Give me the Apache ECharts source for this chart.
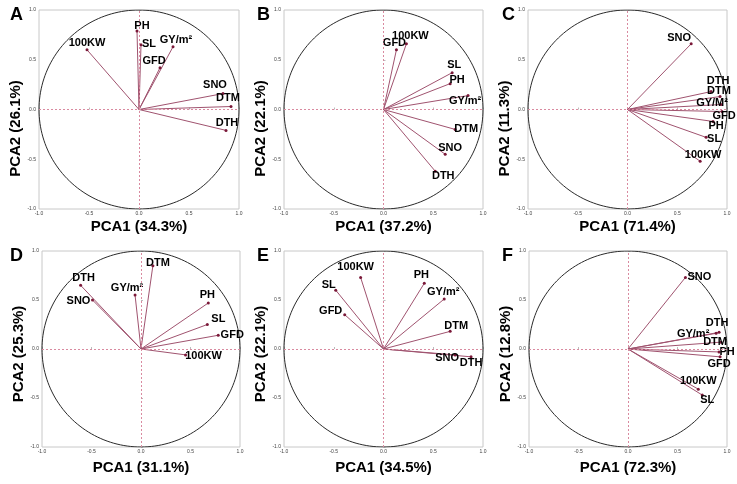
<!DOCTYPE html>
<html><head><meta charset="utf-8">
<script src="https://cdn.jsdelivr.net/npm/echarts@6/dist/echarts.min.js"></script>
<style>html,body{margin:0;padding:0;background:#fff}#c{width:737px;height:484px}</style>
</head><body><div id="c"></div>
<script>
// ---- data ----
const panelLetters = ['A','B','C','D','E','F'];
const pc1Share = ['34.3%','37.2%','71.4%','31.1%','34.5%','72.3%'];
const pc2Share = ['26.1%','22.1%','11.3%','25.3%','22.1%','12.8%'];
const tickValues = [-1.0,-0.5,0.0,0.5,1.0];

const namesA = ['PH','SL','GY/m²','GFD','100KW','SNO','DTM','DTH'];
const pc1A = [-0.02, 0.02, 0.34, 0.21, -0.52, 0.84, 0.92, 0.87];
const pc2A = [0.79, 0.65, 0.63, 0.42, 0.60, 0.16, 0.03, -0.21];

const namesB = ['GFD','100KW','SL','PH','GY/m²','DTM','SNO','DTH'];
const pc1B = [0.13, 0.23, 0.69, 0.67, 0.85, 0.72, 0.62, 0.52];
const pc2B = [0.60, 0.66, 0.37, 0.26, 0.14, -0.20, -0.45, -0.62];

const namesC = ['SNO','DTH','DTM','GY/M²','GFD','PH','SL','100KW'];
const pc1C = [0.64, 0.84, 0.93, 0.94, 0.95, 0.86, 0.79, 0.73];
const pc2C = [0.66, 0.18, 0.13, 0.05, -0.02, -0.12, -0.28, -0.52];

const namesD = ['DTM','DTH','SNO','GY/m²','PH','SL','GFD','100KW'];
const pc1D = [0.12, -0.61, -0.49, -0.06, 0.68, 0.67, 0.78, 0.45];
const pc2D = [0.85, 0.65, 0.50, 0.55, 0.47, 0.25, 0.14, -0.06];

const namesE = ['100KW','SL','GFD','PH','GY/m²','DTM','SNO','DTH'];
const pc1E = [-0.23, -0.48, -0.39, 0.41, 0.61, 0.67, 0.72, 0.88];
const pc2E = [0.73, 0.60, 0.35, 0.67, 0.51, 0.18, -0.06, -0.08];

const namesF = ['SNO','DTH','GY/m²','DTM','PH','GFD','100KW','SL'];
const pc1F = [0.58, 0.92, 0.89, 0.94, 0.92, 0.93, 0.71, 0.75];
const pc2F = [0.73, 0.17, 0.16, 0.07, -0.03, -0.08, -0.41, -0.47];

// ---- styling / layout (not data) ----
const labelOffsets = [
  [[5,-5],[8,-1],[3,-7],[-6,-7],[0,-7],[-8,-9],[-3,-9],[1,-7]],
  [[-2,-7],[4,-8],[2,-8],[7,-4],[-3,5],[11,0],[5,-6],[8,5]],
  [[-12,-6],[7,-11],[-1,-6],[-9,-2],[2,4],[3,5],[8,2],[3,-6]],
  [[5,-3],[3,-7],[-14,1],[-8,-7],[-1,-8],[11,-6],[14,0],[18,1]],
  [[-5,-10],[-7,-5],[-14,-4],[-3,-8],[-1,-7],[6,-5],[-8,3],[0,6]],
  [[14,0],[-2,-9],[-23,1],[-6,0],[8,0],[-1,7],[0,-8],[5,5]]
];
const gridBoxes = [
  {left:39, top:10, width:200, height:199},
  {left:284, top:10, width:199, height:199},
  {left:528, top:10, width:199, height:199},
  {left:42, top:251, width:198, height:196},
  {left:284, top:251, width:199, height:196},
  {left:529, top:251, width:198, height:196}
];
const letterPos = [[10,6],[257,6],[502,6],[10,247],[257,247],[502,247]];
const xNameGap = [10,10,10,13,13,13];
const yNameShift = [19,19,19,5,5,5];

const names = [namesA,namesB,namesC,namesD,namesE,namesF];
const pc1 = [pc1A,pc1B,pc1C,pc1D,pc1E,pc1F];
const pc2 = [pc2A,pc2B,pc2C,pc2D,pc2E,pc2F];

const FONT = '"Liberation Sans", Arial, Helvetica, sans-serif';
const circlePts = [];
for (let k = 0; k <= 180; k++) { const t = k / 180 * 2 * Math.PI; circlePts.push([Math.cos(t), Math.sin(t)]); }

const option = {
  animation:false,
  backgroundColor:'#fff',
  title: panelLetters.map((L,i)=>({text:L, left:letterPos[i][0], top:letterPos[i][1], padding:0,
    textStyle:{fontSize:18, fontWeight:'bold', color:'#000', fontFamily:FONT}})),
  grid: gridBoxes.map(g=>Object.assign({show:true, borderColor:'#c8c8c8', borderWidth:1, backgroundColor:'#fff', containLabel:false}, g)),
  xAxis: [], yAxis: [], series: []
};

const axisLabelCommon = {fontSize:5, color:'#444', fontFamily:FONT, formatter:v=>tickValues.includes(v)?v.toFixed(1):''};

for (let i = 0; i < 6; i++) {
  option.xAxis.push({type:'value', gridIndex:i, min:-1, max:1, interval:0.5,
    name:'PCA1 (' + pc1Share[i] + ')', nameLocation:'middle', nameGap:xNameGap[i],
    nameTextStyle:{fontSize:15, fontWeight:'bold', color:'#000', fontFamily:FONT},
    axisLine:{show:false}, axisTick:{show:true, inside:true, length:2, lineStyle:{color:'#bbb'}},
    splitLine:{show:false}, axisLabel:Object.assign({margin:2}, axisLabelCommon)});
  option.yAxis.push({type:'value', gridIndex:i, min:-1, max:1, interval:0.5,
    name:'PCA2 (' + pc2Share[i] + ')', nameLocation:'middle', nameGap:12,
    nameTextStyle:{fontSize:15, fontWeight:'bold', color:'#000', fontFamily:FONT, padding:[0, yNameShift[i]*2, 0, 0]},
    axisLine:{show:false}, axisTick:{show:true, inside:true, length:2, lineStyle:{color:'#bbb'}},
    splitLine:{show:false}, axisLabel:Object.assign({margin:3}, axisLabelCommon)});
  // unit circle + dotted cross-hair
  option.series.push({type:'line', xAxisIndex:i, yAxisIndex:i, data:circlePts, showSymbol:false, silent:true,
    lineStyle:{color:'#2a2a2a', width:1}, z:2,
    markLine:{silent:true, symbol:'none', label:{show:false}, animation:false,
      lineStyle:{type:[2,2], color:'#d98aa0', width:1},
      data:[{xAxis:0},{yAxis:0}]}});
  // vectors
  const pts = pc1[i].map((x,j)=>[x, pc2[i][j]]);
  option.series.push({type:'custom', xAxisIndex:i, yAxisIndex:i, data:pts, silent:true, z:3,
    renderItem:(params, api)=>{
      const o = api.coord([0,0]); const p = api.coord([api.value(0), api.value(1)]);
      return {type:'line', shape:{x1:o[0], y1:o[1], x2:p[0], y2:p[1]}, style:{stroke:'#a0536f', lineWidth:1}};
    }});
  // endpoints + labels
  option.series.push({type:'scatter', xAxisIndex:i, yAxisIndex:i, symbolSize:3, silent:true, z:4,
    itemStyle:{color:'#7a1838', opacity:1},
    data: pts.map((p,j)=>({value:p, name:names[i][j],
      label:{show:true, position:'inside', offset:labelOffsets[i][j], formatter:names[i][j],
        color:'#000', opacity:1, fontSize:11, fontWeight:'bold', fontFamily:FONT, textBorderWidth:0}}))});
}

const chart = echarts.init(document.getElementById('c'), null, {renderer:'canvas'});
chart.setOption(option);
</script></body></html>
